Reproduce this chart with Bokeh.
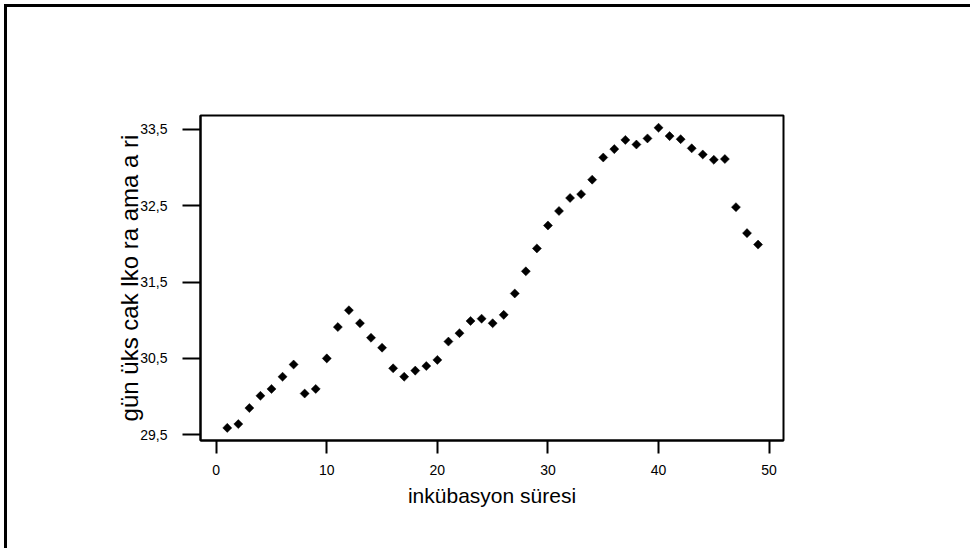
import numpy as np
from bokeh.plotting import figure
from bokeh.models import Range1d, FixedTicker, InlineStyleSheet
from bokeh.embed import file_html
from bokeh.resources import INLINE

# ---- data ----
days = list(range(1, 50))
temps = [29.59, 29.64, 29.85, 30.01, 30.10, 30.26, 30.42, 30.04, 30.10, 30.50,
         30.91, 31.13, 30.96, 30.77, 30.64, 30.37, 30.26, 30.34, 30.40, 30.48,
         30.72, 30.83, 30.99, 31.02, 30.96, 31.07, 31.35, 31.64, 31.94, 32.24,
         32.43, 32.60, 32.65, 32.84, 33.13, 33.24, 33.36, 33.30, 33.38, 33.52,
         33.41, 33.37, 33.25, 33.17, 33.10, 33.11, 32.48, 32.14, 31.99]
x_ticks = [0, 10, 20, 30, 40, 50]
y_ticks = [29.5, 30.5, 31.5, 32.5, 33.5]
y_tick_labels = ["29,5", "30,5", "31,5", "32,5", "33,5"]
x_title = "inkübasyon süresi"
y_title = "gün üks cak lko ra ama a ri"

FONT = "Liberation Sans"

p = figure(width=966, height=544, output_backend="svg", toolbar_location=None,
           x_range=Range1d(-1.42, 51.3), y_range=Range1d(29.425, 33.68),
           min_border_left=193, min_border_right=190,
           min_border_top=108, min_border_bottom=111)

p.stylesheets = [InlineStyleSheet(css=":host { margin-left: 4px; margin-top: 4px; "
                                      "border-left: 3px solid #000; border-top: 3px solid #000; }")]

p.background_fill_color = "white"
p.border_fill_color = "white"
p.outline_line_color = "black"
p.outline_line_width = 2
p.xgrid.grid_line_color = None
p.ygrid.grid_line_color = None

p.scatter(days, temps, marker="square", angle=np.pi / 4, size=6.4,
          fill_color="black", line_color="black", line_width=0.5)

xa = p.xaxis[0]
xa.ticker = FixedTicker(ticks=x_ticks)
xa.minor_tick_line_color = None
xa.major_tick_in = 0
xa.major_tick_out = 13
xa.major_tick_line_width = 2
xa.axis_line_width = 2
xa.major_label_text_font = FONT
xa.major_label_text_font_size = "14px"
xa.major_label_text_color = "black"
xa.major_label_standoff = 11
xa.axis_label = x_title
xa.axis_label_text_font = FONT
xa.axis_label_text_font_size = "21px"
xa.axis_label_text_font_style = "normal"
xa.axis_label_text_color = "black"
xa.axis_label_standoff = 6

ya = p.yaxis[0]
ya.ticker = FixedTicker(ticks=y_ticks)
ya.major_label_overrides = {t: l for t, l in zip(y_ticks, y_tick_labels)}
ya.minor_tick_line_color = None
ya.major_tick_in = 0
ya.major_tick_out = 18
ya.major_tick_line_width = 2
ya.axis_line_width = 2
ya.major_label_text_font = FONT
ya.major_label_text_font_size = "14px"
ya.major_label_text_color = "black"
ya.major_label_standoff = 15
ya.axis_label = y_title
ya.axis_label_text_font = FONT
ya.axis_label_text_font_size = "24px"
ya.axis_label_text_font_style = "normal"
ya.axis_label_text_color = "black"
ya.axis_label_standoff = -6

open("out.html", "w").write(file_html(p, INLINE))
